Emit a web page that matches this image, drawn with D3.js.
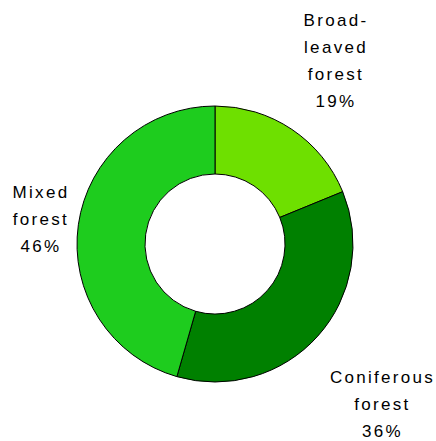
<!DOCTYPE html>
<html><head><meta charset="utf-8">
<script src="https://cdn.jsdelivr.net/npm/d3@7"></script>
<style>body{margin:0;background:#fff}svg{display:block}</style>
</head><body>
<svg id="c" width="436" height="441"></svg>
<script>
const categories = ["Broad-leaved forest", "Coniferous forest", "Mixed forest"];
const values = [19, 36, 46];
const labelLines = [["Broad-", "leaved", "forest", "19%"], ["Coniferous", "forest", "36%"], ["Mixed", "forest", "46%"]];
const colors = ["#6ee000", "#008000", "#1ecc1e"];
const labelPos = [[336, 26], [382.5, 383], [41, 198]];

const svg = d3.select("#c");
const cx = 215, cy = 244, rOuter = 138, rInner = 70;
const pie = d3.pie().sort(null).value(d => d);
const arc = d3.arc().innerRadius(rInner).outerRadius(rOuter);
const g = svg.append("g").attr("transform", `translate(${cx},${cy})`);
g.selectAll("path").data(pie(values)).enter().append("path")
  .attr("d", arc).attr("fill", (d, i) => colors[i])
  .attr("stroke", "#000").attr("stroke-width", 1);

const lh = 27;
labelLines.forEach((lines, i) => {
  const t = svg.append("text").attr("text-anchor", "middle")
    .attr("font-family", "Liberation Sans, Arial, sans-serif")
    .attr("font-size", 17).attr("letter-spacing", "2.3px").attr("fill", "#000");
  lines.forEach((s, j) => {
    t.append("tspan").attr("x", labelPos[i][0]).attr("y", labelPos[i][1] + j * lh).text(s);
  });
});
</script>
</body></html>
